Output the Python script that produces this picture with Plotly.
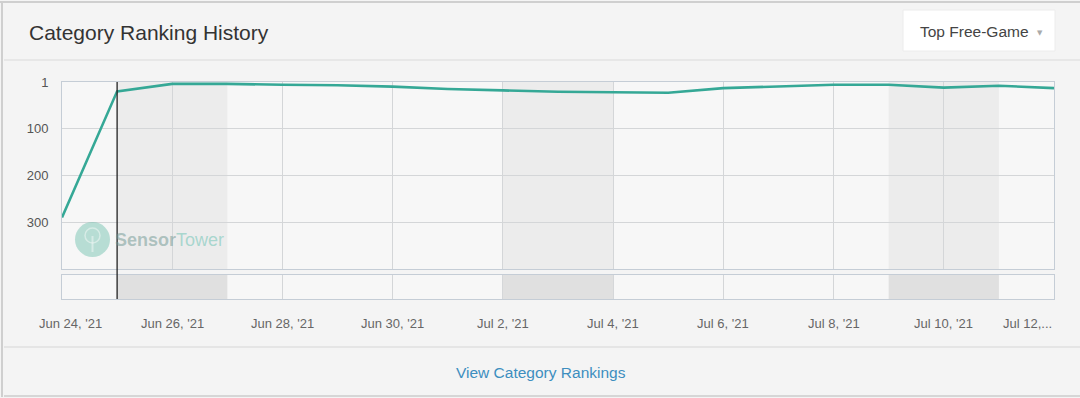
import plotly.graph_objects as go

# ---------------- data ----------------
dates = ["2021-06-24", "2021-06-25", "2021-06-26", "2021-06-27", "2021-06-28",
         "2021-06-29", "2021-06-30", "2021-07-01", "2021-07-02", "2021-07-03",
         "2021-07-04", "2021-07-05", "2021-07-06", "2021-07-07", "2021-07-08",
         "2021-07-09", "2021-07-10", "2021-07-11", "2021-07-12"]
ranks = [290, 20, 4, 4, 6, 7, 10, 15, 18, 21, 22, 23, 13, 10, 6, 6, 12, 8, 13]

band_starts = ["2021-06-25", "2021-07-02", "2021-07-09"]
band_ends = ["2021-06-27", "2021-07-04", "2021-07-11"]
crosshair_date = "2021-06-25"

x_tick_dates = ["2021-06-24", "2021-06-26", "2021-06-28", "2021-06-30", "2021-07-02",
                "2021-07-04", "2021-07-06", "2021-07-08", "2021-07-10", "2021-07-12"]
x_tick_labels = ["Jun 24, '21", "Jun 26, '21", "Jun 28, '21", "Jun 30, '21", "Jul 2, '21",
                 "Jul 4, '21", "Jul 6, '21", "Jul 8, '21", "Jul 10, '21", "Jul 12,..."]
y_tick_vals = [1, 100, 200, 300]
y_tick_labels = ["1", "100", "200", "300"]

title_text = "Category Ranking History"
dropdown_text = "Top Free-Game"
link_text = "View Category Rankings"

# ---------------- geometry helpers (page pixels -> paper) ----------------
W, H = 1080, 398
ML, MR, MT, MB = 62, 26, 82, 99
PW = W - ML - MR
PH = H - MT - MB


def px(xp):
    return (xp - ML) / PW


def py(yp):
    return (H - MB - yp) / PH


main_bottom = py(269)
nav_top = py(275)

FONT = "Liberation Sans, Arial, sans-serif"
LINE_COLOR = "#35a896"
GRID = "#d4d6d8"
BORDER = "#c5cdd6"

fig = go.Figure()

fig.add_trace(go.Scatter(
    x=dates, y=ranks, mode="lines",
    line=dict(color=LINE_COLOR, width=2.6),
    xaxis="x", yaxis="y", showlegend=False, hoverinfo="skip",
))
# invisible trace so the navigator subplot exists
fig.add_trace(go.Scatter(
    x=[dates[0], dates[-1]], y=[0.5, 0.5], mode="lines",
    line=dict(color="rgba(0,0,0,0)", width=0),
    xaxis="x2", yaxis="y2", showlegend=False, hoverinfo="skip",
))

shapes = []
# card frame / header / footer decoration
shapes.append(dict(type="line", xref="paper", yref="paper", x0=px(0), x1=px(W),
                   y0=py(2), y1=py(2), line=dict(color="#cfcfcf", width=2)))
shapes.append(dict(type="line", xref="paper", yref="paper", x0=px(2), x1=px(2),
                   y0=py(2), y1=py(397), line=dict(color="#cfcfcf", width=2)))
shapes.append(dict(type="line", xref="paper", yref="paper", x0=px(4), x1=px(W),
                   y0=py(396), y1=py(396), line=dict(color="#d6d6d6", width=2)))
shapes.append(dict(type="line", xref="paper", yref="paper", x0=px(4), x1=px(W),
                   y0=py(60), y1=py(60), line=dict(color="#e3e3e3", width=1.5)))
shapes.append(dict(type="line", xref="paper", yref="paper", x0=px(4), x1=px(W),
                   y0=py(347), y1=py(347), line=dict(color="#e0e0e0", width=1.5)))
# dropdown box
shapes.append(dict(type="rect", xref="paper", yref="paper", x0=px(903), x1=px(1055),
                   y0=py(10), y1=py(51), fillcolor="#ffffff",
                   line=dict(color="#ececec", width=1)))

# weekend bands
for s, e in zip(band_starts, band_ends):
    shapes.append(dict(type="rect", xref="x", yref="y domain", x0=s, x1=e, y0=0, y1=1,
                       fillcolor="#ececec", line=dict(width=0), layer="below"))
    shapes.append(dict(type="rect", xref="x2", yref="y2 domain", x0=s, x1=e, y0=0, y1=1,
                       fillcolor="#e0e0e0", line=dict(width=0), layer="above"))

# crosshair
shapes.append(dict(type="line", xref="x", yref="paper", x0=crosshair_date, x1=crosshair_date,
                   y0=0, y1=1, line=dict(color="#222222", width=1.3), layer="above"))

# watermark logo (circle with a pin-like glyph)
shapes.append(dict(type="circle", xref="paper", yref="paper",
                   x0=px(75), x1=px(110), y0=py(222), y1=py(257),
                   fillcolor="rgba(120,195,178,0.5)", line=dict(width=0), layer="above"))
shapes.append(dict(type="circle", xref="paper", yref="paper",
                   x0=px(85), x1=px(100), y0=py(228), y1=py(243),
                   fillcolor="rgba(0,0,0,0)", line=dict(color="rgba(235,245,242,0.6)", width=1.5),
                   layer="above"))
shapes.append(dict(type="line", xref="paper", yref="paper",
                   x0=px(92.5), x1=px(92.5), y0=py(236), y1=py(252),
                   line=dict(color="rgba(235,245,242,0.6)", width=2), layer="above"))

annotations = []
annotations.append(dict(xref="paper", yref="paper", x=px(27), y=py(32), xanchor="left",
                        yanchor="middle", text=title_text, showarrow=False,
                        font=dict(family=FONT, size=21, color="#333333")))
annotations.append(dict(xref="paper", yref="paper", x=px(918), y=py(31), xanchor="left",
                        yanchor="middle", text=dropdown_text, showarrow=False,
                        font=dict(family=FONT, size=15.5, color="#444444")))
annotations.append(dict(xref="paper", yref="paper", x=px(1040), y=py(33), xanchor="center",
                        yanchor="middle", text="▼", showarrow=False,
                        font=dict(family="DejaVu Sans", size=7, color="#aaaaaa")))
annotations.append(dict(xref="paper", yref="paper", x=px(541), y=py(372), xanchor="center",
                        yanchor="middle", text=link_text, showarrow=False,
                        font=dict(family=FONT, size=15.5, color="#3d8ebf")))
annotations.append(dict(xref="paper", yref="paper", x=px(113), y=py(240), xanchor="left",
                        yanchor="middle",
                        text="<b><span style='color:rgba(110,150,145,0.5)'>Sensor</span></b>"
                             "<span style='color:rgba(110,195,180,0.55)'>Tower</span>",
                        showarrow=False, font=dict(family=FONT, size=18)))

# x tick labels (below navigator)
n = len(x_tick_dates)
for i, (d, lab) in enumerate(zip(x_tick_dates, x_tick_labels)):
    anchor = "center"
    shift = 0
    if i == 0:
        shift = 8
    if i == n - 1:
        anchor = "right"
        shift = 0
    annotations.append(dict(xref="x", yref="paper", x=d, y=py(323), xanchor=anchor,
                            yanchor="middle", xshift=shift, text=lab, showarrow=False,
                            font=dict(family=FONT, size=13, color="#666666")))

fig.update_layout(
    width=W, height=H,
    margin=dict(l=ML, r=MR, t=MT, b=MB, pad=0),
    paper_bgcolor="#f4f4f4",
    plot_bgcolor="#f7f7f7",
    showlegend=False,
    hovermode=False,
    shapes=shapes,
    annotations=annotations,
    xaxis=dict(
        type="date", range=["2021-06-24", "2021-07-12"], anchor="y",
        tickvals=x_tick_dates, showticklabels=False, ticks="",
        showgrid=True, gridcolor=GRID, gridwidth=1,
        showline=True, linecolor=BORDER, linewidth=1, mirror=True, zeroline=False,
    ),
    yaxis=dict(
        domain=[main_bottom, 1], range=[400, 0], anchor="x",
        tickvals=y_tick_vals, ticktext=y_tick_labels,
        tickfont=dict(family=FONT, size=13, color="#555555"),
        ticks="", ticklabelstandoff=10,
        showgrid=True, gridcolor=GRID, gridwidth=1,
        showline=True, linecolor=BORDER, linewidth=1, mirror=True, zeroline=False,
    ),
    xaxis2=dict(
        type="date", matches="x", anchor="y2",
        tickvals=x_tick_dates, showticklabels=False, ticks="",
        showgrid=True, gridcolor=GRID, gridwidth=1,
        showline=True, linecolor=BORDER, linewidth=1, mirror=True, zeroline=False,
    ),
    yaxis2=dict(
        domain=[0, nav_top], range=[0, 1], anchor="x2",
        showticklabels=False, ticks="", showgrid=False,
        showline=True, linecolor=BORDER, linewidth=1, mirror=True, zeroline=False,
    ),
)

fig.write_html(
    "out.html",
    config={"displayModeBar": False},
    post_script="document.body.style.margin='0';document.body.style.background='#f4f4f4';"
                "window.dispatchEvent(new Event('resize'));",
)
